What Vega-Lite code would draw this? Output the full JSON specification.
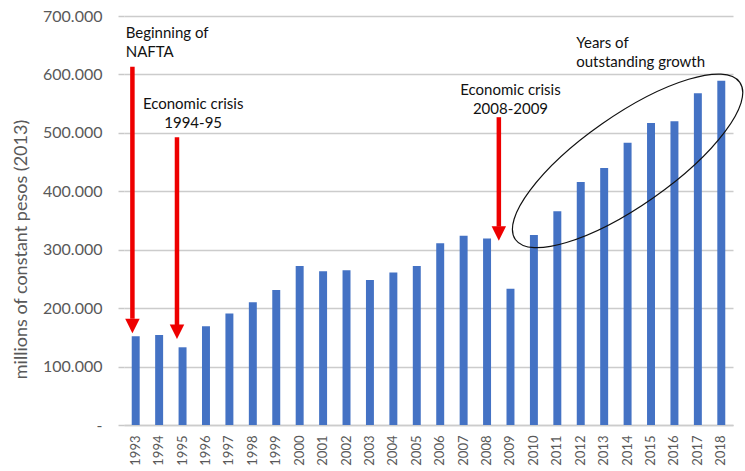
{
  "$schema": "https://vega.github.io/schema/vega-lite/v6.json",
  "width": 609,
  "height": 409,
  "autosize": {"type": "none"},
  "padding": {"left": 124, "top": 16, "right": 12, "bottom": 46},
  "background": "white",
  "config": {
    "view": {"stroke": null},
    "font": "Lato",
    "locale": {"number": {"decimal": ",", "thousands": ".", "grouping": [3], "currency": ["$", ""]}}
  },
  "datasets": {
    "gdp": [
      {"year": "1993", "value": 152000},
      {"year": "1994", "value": 154000},
      {"year": "1995", "value": 133000},
      {"year": "1996", "value": 169000},
      {"year": "1997", "value": 191000},
      {"year": "1998", "value": 210000},
      {"year": "1999", "value": 231000},
      {"year": "2000", "value": 272000},
      {"year": "2001", "value": 263000},
      {"year": "2002", "value": 265000},
      {"year": "2003", "value": 248000},
      {"year": "2004", "value": 261000},
      {"year": "2005", "value": 272000},
      {"year": "2006", "value": 311000},
      {"year": "2007", "value": 324000},
      {"year": "2008", "value": 319000},
      {"year": "2009", "value": 233000},
      {"year": "2010", "value": 325000},
      {"year": "2011", "value": 366000},
      {"year": "2012", "value": 416000},
      {"year": "2013", "value": 440000},
      {"year": "2014", "value": 483000},
      {"year": "2015", "value": 517000},
      {"year": "2016", "value": 520000},
      {"year": "2017", "value": 568000},
      {"year": "2018", "value": 589000}
    ],
    "arrows": [
      {"event": "nafta", "year": "1993", "top": 613000, "base": 182000, "tip": 157000},
      {"event": "crisis95", "year": "1995", "top": 492500, "base": 171000, "tip": 147000},
      {"event": "crisis09", "year": "2008", "top": 526800, "base": 339500, "tip": 315500}
    ],
    "notes": [
      {"event": "nafta", "year": "1993", "value": 662000, "label": "Beginning of\nNAFTA"},
      {"event": "crisis95", "year": "1995", "value": 541000, "label": "Economic crisis\n1994-95"},
      {"event": "crisis09", "year": "2009", "value": 565000, "label": "Economic crisis\n2008-2009"},
      {"event": "growth", "year": "2012", "value": 645000, "label": "Years of\noutstanding growth"}
    ],
    "ellipse": [{"year": "2014", "value": 452000}]
  },
  "layer": [
    {
      "data": {"name": "gdp"},
      "mark": {"type": "bar", "color": "#4472C4"},
      "encoding": {
        "x": {
          "field": "year", "type": "ordinal",
          "scale": {"paddingInner": 0.66, "paddingOuter": 0.33},
          "axis": {
            "title": null, "labelAngle": -90, "labelFontSize": 13, "labelColor": "#595959",
            "labelFont": "Lato", "ticks": false, "tickSize": 0, "labelPadding": 10,
            "domain": true, "domainColor": "#cccccc", "domainWidth": 1.5
          }
        },
        "y": {
          "field": "value", "type": "quantitative",
          "scale": {"domain": [0, 700000], "nice": false},
          "axis": {
            "title": "millions of constant pesos (2013)",
            "titleFont": "Lato", "titleFontSize": 18, "titleFontWeight": "normal", "titleColor": "#595959",
            "titleX": -103, "titleY": 233, "titleAlign": "center", "titleBaseline": "middle", "titleAngle": -90,
            "values": [0, 100000, 200000, 300000, 400000, 500000, 600000, 700000],
            "format": ",.0f",
            "labelExpr": "datum.value == 0 ? '-' : datum.label",
            "labelFont": "Lato", "labelFontSize": 16, "labelColor": "#595959", "labelPadding": 16,
            "tickSize": 6, "tickColor": "#c8c8c8", "tickWidth": 1.5,
            "domain": false, "grid": true, "gridColor": "#cccccc", "gridWidth": 1.5
          }
        }
      }
    },
    {
      "data": {"name": "ellipse"},
      "mark": {
        "type": "point", "filled": false, "stroke": "#111111", "strokeWidth": 1.2, "opacity": 1,
        "shape": "M1,0C1,0.1814,0.5523,0.3285,0,0.3285C-0.5523,0.3285,-1,0.1814,-1,0C-1,-0.1814,-0.5523,-0.3285,0,-0.3285C0.5523,-0.3285,1,-0.1814,1,0Z",
        "size": 75076, "angle": -35
      },
      "encoding": {
        "x": {"field": "year", "type": "ordinal", "bandPosition": 0.5},
        "y": {"field": "value", "type": "quantitative"}
      }
    },
    {
      "data": {"name": "arrows"},
      "transform": [{"filter": "datum.event == 'nafta'"}],
      "layer": [
        {
          "mark": {"type": "rule", "color": "#ee0000", "strokeWidth": 4.5},
          "encoding": {
            "x": {"field": "year", "type": "ordinal", "bandPosition": 0.086},
            "y": {"field": "top", "type": "quantitative"},
            "y2": {"field": "base"}
          }
        },
        {
          "mark": {"type": "point", "filled": true, "color": "#ee0000", "opacity": 1, "shape": "M-1,-2L1,-2L0,0Z", "size": 210, "strokeWidth": 0},
          "encoding": {
            "x": {"field": "year", "type": "ordinal", "bandPosition": 0.086},
            "y": {"field": "tip", "type": "quantitative"}
          }
        }
      ]
    },
    {
      "data": {"name": "arrows"},
      "transform": [{"filter": "datum.event == 'crisis95'"}],
      "layer": [
        {
          "mark": {"type": "rule", "color": "#ee0000", "strokeWidth": 4.5},
          "encoding": {
            "x": {"field": "year", "type": "ordinal", "bandPosition": -0.2},
            "y": {"field": "top", "type": "quantitative"},
            "y2": {"field": "base"}
          }
        },
        {
          "mark": {"type": "point", "filled": true, "color": "#ee0000", "opacity": 1, "shape": "M-1,-2L1,-2L0,0Z", "size": 210, "strokeWidth": 0},
          "encoding": {
            "x": {"field": "year", "type": "ordinal", "bandPosition": -0.2},
            "y": {"field": "tip", "type": "quantitative"}
          }
        }
      ]
    },
    {
      "data": {"name": "arrows"},
      "transform": [{"filter": "datum.event == 'crisis09'"}],
      "layer": [
        {
          "mark": {"type": "rule", "color": "#ee0000", "strokeWidth": 4.5},
          "encoding": {
            "x": {"field": "year", "type": "ordinal", "bandPosition": 1.98},
            "y": {"field": "top", "type": "quantitative"},
            "y2": {"field": "base"}
          }
        },
        {
          "mark": {"type": "point", "filled": true, "color": "#ee0000", "opacity": 1, "shape": "M-1,-2L1,-2L0,0Z", "size": 210, "strokeWidth": 0},
          "encoding": {
            "x": {"field": "year", "type": "ordinal", "bandPosition": 1.98},
            "y": {"field": "tip", "type": "quantitative"}
          }
        }
      ]
    },
    {
      "data": {"name": "notes"},
      "transform": [{"filter": "datum.event == 'nafta'"}],
      "mark": {"type": "text", "align": "left", "baseline": "alphabetic", "font": "Lato", "fontSize": 15, "color": "#111111", "lineBreak": "\n", "lineHeight": 19},
      "encoding": {
        "x": {"field": "year", "type": "ordinal", "bandPosition": -0.755},
        "y": {"field": "value", "type": "quantitative"},
        "text": {"field": "label"}
      }
    },
    {
      "data": {"name": "notes"},
      "transform": [{"filter": "datum.event == 'crisis95'"}],
      "mark": {"type": "text", "align": "center", "baseline": "alphabetic", "font": "Lato", "fontSize": 15, "color": "#111111", "lineBreak": "\n", "lineHeight": 19},
      "encoding": {
        "x": {"field": "year", "type": "ordinal", "bandPosition": 1.83},
        "y": {"field": "value", "type": "quantitative"},
        "text": {"field": "label"}
      }
    },
    {
      "data": {"name": "notes"},
      "transform": [{"filter": "datum.event == 'crisis09'"}],
      "mark": {"type": "text", "align": "center", "baseline": "alphabetic", "font": "Lato", "fontSize": 15, "color": "#111111", "lineBreak": "\n", "lineHeight": 19},
      "encoding": {
        "x": {"field": "year", "type": "ordinal", "bandPosition": 0.5},
        "y": {"field": "value", "type": "quantitative"},
        "text": {"field": "label"}
      }
    },
    {
      "data": {"name": "notes"},
      "transform": [{"filter": "datum.event == 'growth'"}],
      "mark": {"type": "text", "align": "left", "baseline": "alphabetic", "font": "Lato", "fontSize": 15, "color": "#111111", "lineBreak": "\n", "lineHeight": 19},
      "encoding": {
        "x": {"field": "year", "type": "ordinal", "bandPosition": -0.065},
        "y": {"field": "value", "type": "quantitative"},
        "text": {"field": "label"}
      }
    }
  ]
}
